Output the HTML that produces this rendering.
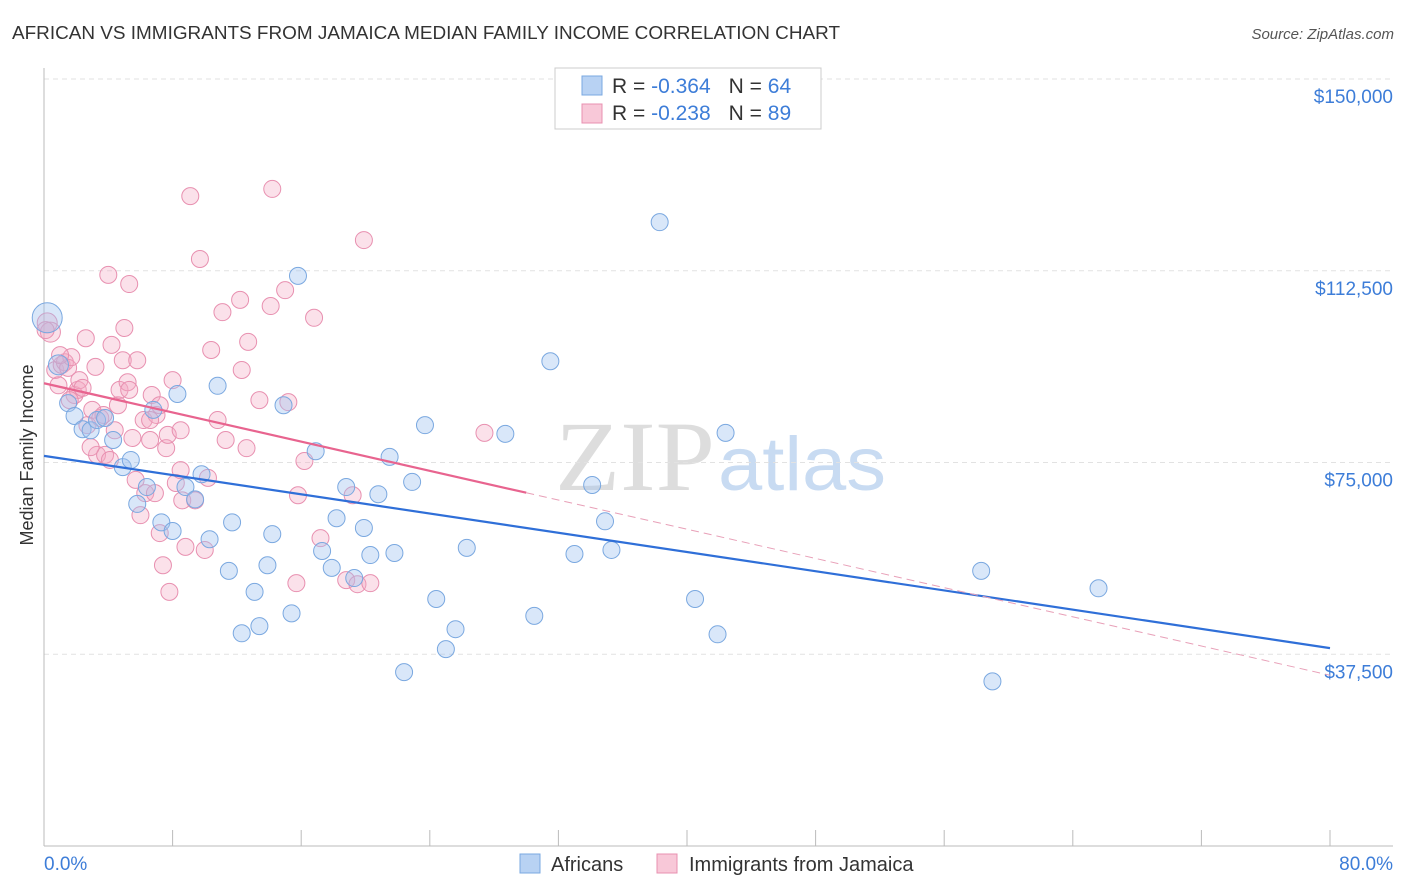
<!DOCTYPE html>
<html><head><meta charset="utf-8"><style>
body{margin:0;background:#fff;font-family:"Liberation Sans",sans-serif;}
svg{display:block}
</style></head><body>
<svg width="1406" height="892" id="chart">
<text x="12" y="39" font-size="18" fill="#333" textLength="828" lengthAdjust="spacingAndGlyphs">AFRICAN VS IMMIGRANTS FROM JAMAICA MEDIAN FAMILY INCOME CORRELATION CHART</text>
<text x="1394" y="39" font-size="15" fill="#555" font-style="italic" text-anchor="end">Source: ZipAtlas.com</text>
<text x="555" y="490" font-size="100" fill="#ddd" textLength="160" lengthAdjust="spacingAndGlyphs" font-family="Liberation Serif,serif">ZIP</text>
<text x="718" y="490" font-size="76" fill="#c8dbf2" textLength="168" lengthAdjust="spacingAndGlyphs">atlas</text>
<g id="grid"></g><g id="axes"></g><g id="marks"></g>
<text x="33" y="455" font-size="18" fill="#333" text-anchor="middle" transform="rotate(-90 33 455)">Median Family Income</text>
<g>
<rect x="555" y="68" width="266" height="61" fill="#fff" stroke="#ccc"/>
<rect x="582" y="76" width="20" height="19" fill="#b8d2f3" stroke="#7aa8e0"/>
<rect x="582" y="104" width="20" height="19" fill="#f8c8d8" stroke="#e890b0"/>
<text x="612" y="93" font-size="21" fill="#333">R = <tspan fill="#3d7dd8">-0.364</tspan><tspan dx="18">N = </tspan><tspan fill="#3d7dd8">64</tspan></text>
<text x="612" y="120" font-size="21" fill="#333">R = <tspan fill="#3d7dd8">-0.238</tspan><tspan dx="18">N = </tspan><tspan fill="#3d7dd8">89</tspan></text>
</g>
<g>
<rect x="520" y="854" width="20" height="19" fill="#b8d2f3" stroke="#7aa8e0"/>
<text x="551" y="871" font-size="20" fill="#333">Africans</text>
<rect x="657" y="854" width="20" height="19" fill="#f8c8d8" stroke="#e890b0"/>
<text x="689" y="871" font-size="20" fill="#333">Immigrants from Jamaica</text>
</g>
</svg>
<script>
const yTicks=[150000,112500,75000,37500];
const yTickLabels=["$150,000","$112,500","$75,000","$37,500"];
const xTickLabels=["0.0%","80.0%"];
const blueX=[0.2,0.9,1.5,1.9,2.4,2.9,3.3,3.8,4.3,4.9,5.4,5.8,6.4,6.8,7.3,8.0,8.3,8.8,9.4,9.8,10.3,10.8,11.5,11.7,12.3,13.1,13.4,13.9,14.2,14.9,15.4,15.8,16.9,17.3,17.9,18.2,18.8,19.3,19.9,20.3,20.8,21.5,21.8,22.4,22.9,23.7,24.4,25.0,25.6,26.3,28.7,30.5,31.5,33.0,34.1,34.9,35.3,38.3,40.5,41.9,42.4,58.3,59.0,65.6];
const blueY=[103.3,94.1,86.6,84.1,81.5,81.3,83.3,83.7,79.4,74.1,75.5,66.9,70.2,85.3,63.3,61.6,88.4,70.2,67.8,72.7,60.0,90.0,53.8,63.3,41.6,49.7,43.0,54.9,61.0,86.2,45.5,111.5,77.2,57.7,54.4,64.1,70.2,52.4,62.2,56.9,68.8,76.1,57.3,34.0,71.2,82.3,48.3,38.5,42.4,58.3,80.6,45.0,94.8,57.1,70.6,63.5,57.9,122.0,48.3,41.4,80.8,53.8,32.2,50.4];
const pinkX=[0.2,0.4,0.7,0.9,1.1,1.3,1.5,1.7,1.9,2.1,2.2,2.4,2.6,2.7,3.0,3.2,3.3,3.5,3.7,3.8,4.0,4.2,4.4,4.6,4.7,4.9,5.0,5.2,5.3,5.3,5.5,5.7,5.8,6.0,6.2,6.3,6.6,6.7,6.9,7.0,7.2,7.4,7.6,7.7,7.8,8.0,8.2,8.5,8.6,8.8,9.1,9.4,9.7,10.0,10.2,10.4,10.8,11.1,12.3,12.6,12.7,13.4,14.1,14.2,15.0,15.2,15.7,15.8,16.2,16.8,17.2,18.8,19.2,19.5,19.9,20.3,27.4,0.1,1.0,1.6,2.9,4.1,6.6,8.5,11.3,12.2,7.2];
const pinkY=[102.3,100.5,93.1,90.1,94.1,94.6,93.5,95.6,88.2,89.2,91.1,89.6,99.3,82.3,85.3,93.7,76.5,83.7,84.3,76.5,111.7,98.0,81.3,86.2,89.2,95.0,101.3,90.7,89.2,109.9,79.8,71.6,95.0,64.7,83.3,69.0,79.4,88.2,69.0,84.3,61.2,54.9,77.8,80.4,49.7,91.1,71.0,81.3,67.6,58.5,127.1,67.6,114.8,57.9,72.0,97.0,83.3,104.4,93.1,77.8,98.6,87.2,105.6,128.5,108.7,86.8,51.4,68.6,75.3,103.3,60.2,52.0,68.6,51.2,118.5,51.4,80.8,100.9,96.0,87.2,78.0,75.5,83.3,73.5,79.4,106.8,86.2];
const blueTrend=[76.3,38.7];
const pinkTrend=[90.5,33.4];
const pinkSolidEnd=30;
const NS="http://www.w3.org/2000/svg";
const X=p=>44+p/80*1286;
const Y=v=>846-v/150000*767;
const Yk=k=>Y(k*1000);
function mk(tag,attrs,parent){const e=document.createElementNS(NS,tag);for(const k in attrs)e.setAttribute(k,attrs[k]);document.getElementById(parent).appendChild(e);return e;}
yTicks.forEach((t,i)=>{
 const g=mk('line',{x1:44,x2:1393,y1:Y(t),y2:Y(t),stroke:'#e2e2e2','stroke-dasharray':'5,4'},'grid');
 
 
 const l=mk('text',{x:1393,y:Y(t)+24,'font-size':19,fill:'#3d7dd8','text-anchor':'end'},'axes');
 l.textContent=yTickLabels[i];
 
 
});
mk('line',{x1:44,x2:44,y1:68,y2:846,stroke:'#bbb'},'axes');
mk('line',{x1:44,x2:1393,y1:846,y2:846,stroke:'#bbb'},'axes');
for(let i=0;i<=10;i++){const t=mk('line',{x1:X(i*8),x2:X(i*8),y1:830,y2:846,stroke:'#bbb'},'axes');
 
 }
const xl0=mk('text',{x:44,y:870,'font-size':19,fill:'#3d7dd8'},'axes');xl0.textContent=xTickLabels[0];


const xl1=mk('text',{x:1393,y:870,'font-size':19,fill:'#3d7dd8','text-anchor':'end'},'axes');xl1.textContent=xTickLabels[1];


pinkX.forEach((x,i)=>{const c=mk('circle',{cx:X(x),cy:Yk(pinkY[i]),r:i<2?10:8.5,fill:'rgba(244,170,196,0.35)',stroke:'#e890b0','stroke-width':1},'marks');
 
 });
blueX.forEach((x,i)=>{const c=mk('circle',{cx:X(x),cy:Yk(blueY[i]),r:i==0?15:(i<2?10:8.5),fill:'rgba(160,196,240,0.4)',stroke:'#7aa8e0','stroke-width':1},'marks');
 
 });
const bl=mk('line',{x1:X(0),y1:Yk(blueTrend[0]),x2:X(80),y2:Yk(blueTrend[1]),stroke:'#2f6fd8','stroke-width':2.2},'marks');


const pm=pinkTrend[0]+(pinkTrend[1]-pinkTrend[0])*pinkSolidEnd/80;
const pl=mk('line',{x1:X(0),y1:Yk(pinkTrend[0]),x2:X(pinkSolidEnd),y2:Yk(pm),stroke:'#e8648f','stroke-width':2.2},'marks');


const pd=mk('line',{x1:X(pinkSolidEnd),y1:Yk(pm),x2:X(80),y2:Yk(pinkTrend[1]),stroke:'#e8a0b8','stroke-width':1,'stroke-dasharray':'8,5'},'marks');


</script>
</body></html>
